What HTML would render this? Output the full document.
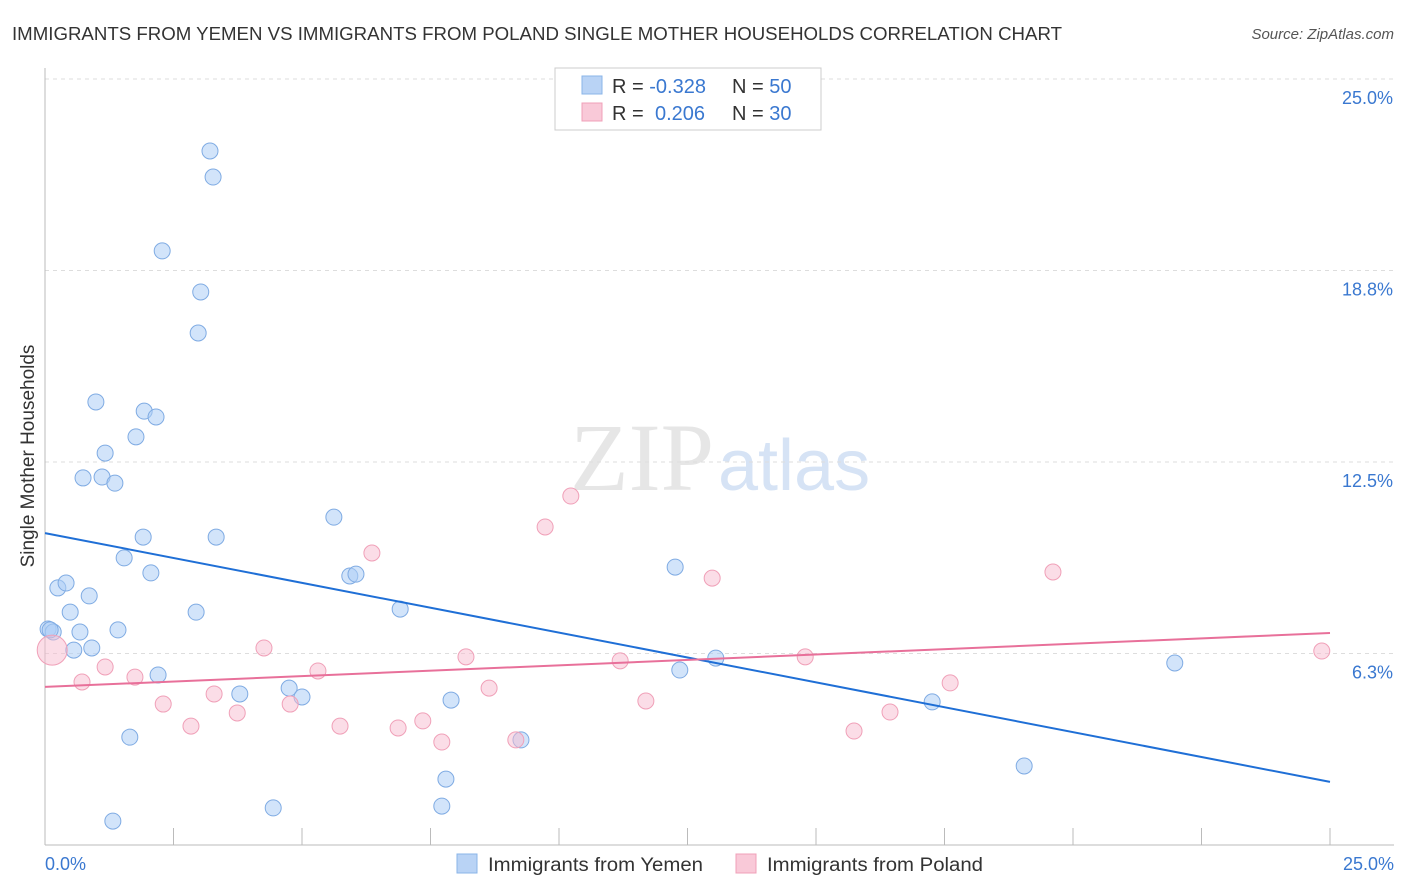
<!DOCTYPE html>
<html><head><meta charset="utf-8"><style>
body{margin:0;background:#fff;font-family:"Liberation Sans",sans-serif;}
svg{display:block}
</style></head><body>
<svg id="chart" width="1406" height="892">
<text x="12" y="40" font-size="18" fill="#333" textLength="1050" lengthAdjust="spacingAndGlyphs">IMMIGRANTS FROM YEMEN VS IMMIGRANTS FROM POLAND SINGLE MOTHER HOUSEHOLDS CORRELATION CHART</text>
<text x="1394" y="39" font-size="15" fill="#555" font-style="italic" text-anchor="end">Source: ZipAtlas.com</text>
<text x="714" y="490" font-size="96" fill="#e6e6e6" text-anchor="end" font-family="Liberation Serif">ZIP</text>
<text x="718" y="490" font-size="72" fill="#d6e3f5">atlas</text>
<g id="grid"></g><g id="axes"></g><g id="marks"></g>
<text transform="translate(34,456) rotate(-90)" font-size="19" fill="#333" text-anchor="middle">Single Mother Households</text>
<text x="45" y="870" font-size="18" fill="#3a78d0">0.0%</text>
<text x="1394" y="870" font-size="18" fill="#3a78d0" text-anchor="end">25.0%</text>
<g>
<rect x="555" y="68" width="266" height="62" fill="#fff" stroke="#ccc"/>
<rect x="582" y="76" width="20" height="18" fill="#b9d3f5" stroke="#8ab4e8"/>
<rect x="582" y="103" width="20" height="18" fill="#f9c9d8" stroke="#f0a0b8"/>
<text x="612" y="93" font-size="20" fill="#333">R = <tspan fill="#3a78d0">-0.328</tspan><tspan x="732">N = </tspan><tspan fill="#3a78d0">50</tspan></text>
<text x="612" y="120" font-size="20" fill="#333">R = <tspan fill="#3a78d0" x="655">0.206</tspan><tspan x="732">N = </tspan><tspan fill="#3a78d0">30</tspan></text>
</g>
<g>
<rect x="457" y="854" width="20" height="19" fill="#b9d3f5" stroke="#8ab4e8"/>
<text x="488" y="871" font-size="19" fill="#333" textLength="215" lengthAdjust="spacingAndGlyphs">Immigrants from Yemen</text>
<rect x="736" y="854" width="20" height="19" fill="#f9c9d8" stroke="#f0a0b8"/>
<text x="767" y="871" font-size="19" fill="#333" textLength="216" lengthAdjust="spacingAndGlyphs">Immigrants from Poland</text>
</g>
</svg>
<script>
const yTicks=[6.25,12.5,18.75,25];
const yTickLabels=["6.3%","12.5%","18.8%","25.0%"];
const yemenX=[3.21,3.27,2.28,3.03,2.98,0.99,1.93,2.16,1.77,1.17,0.74,1.11,1.36,5.62,1.91,3.33,1.54,2.06,5.93,6.05,12.26,0.25,0.41,0.86,0.49,2.94,6.91,0.06,0.16,0.68,1.42,0.56,0.91,2.20,12.35,13.05,21.98,3.79,4.75,5.00,7.90,17.26,1.65,9.26,7.80,19.05,4.44,7.72,1.32,0.10];
const yemenY=[22.65,21.80,19.39,18.05,16.71,14.46,14.16,13.97,13.32,12.79,11.98,12.01,11.81,10.70,10.05,10.05,9.37,8.88,8.78,8.84,9.07,8.39,8.55,8.13,7.60,7.60,7.70,7.05,6.95,6.95,7.02,6.36,6.43,5.55,5.71,6.10,5.94,4.93,5.12,4.83,4.73,4.67,3.52,3.43,2.15,2.58,1.21,1.27,0.78,7.02];
const polandX=[0.14,0.72,1.17,1.75,2.30,2.84,3.29,3.74,4.26,4.77,5.31,5.74,6.36,6.87,7.35,7.72,8.19,8.64,9.16,9.73,10.23,11.19,11.69,12.98,14.79,15.74,16.44,17.61,19.61,24.84];
const polandY=[6.36,5.32,5.81,5.48,4.60,3.88,4.93,4.31,6.43,4.60,5.68,3.88,9.53,3.82,4.05,3.36,6.14,5.12,3.43,10.38,11.39,6.01,4.70,8.71,6.14,3.72,4.34,5.29,8.91,6.33];
const yemenTrend=[10.18,2.06];
const polandTrend=[5.16,6.92];
const NS="http://www.w3.org/2000/svg";
const X0=45,X1=1330,Y0=845,Y1=79;
const sx=v=>X0+(X1-X0)*v/25, sy=v=>Y0-(Y0-Y1)*v/25;
function mk(tag,attrs,parent){const e=document.createElementNS(NS,tag);for(const k in attrs)e.setAttribute(k,attrs[k]);parent.appendChild(e);return e;}
const grid=document.getElementById('grid'),axes=document.getElementById('axes'),marks=document.getElementById('marks');
yTicks.forEach((t,i)=>{
 const l=mk('line',{x1:X0,x2:1394,y1:sy(t),y2:sy(t),stroke:'#ddd','stroke-dasharray':'4,4'},grid);
 
 
 const tx=mk('text',{x:1393,y:sy(t)+25,'font-size':18,fill:'#3a78d0','text-anchor':'end'},axes);
 tx.textContent=yTickLabels[i];
 
 
});
const ax=mk('line',{x1:X0,x2:X0,y1:68,y2:Y0,stroke:'#bbb'},axes);


const bx=mk('line',{x1:X0,x2:1394,y1:Y0,y2:Y0,stroke:'#bbb'},axes);


for(let i=0;i<=10;i++){const x=X0+i*(X1-X0)/10;
 const t=mk('line',{x1:x,x2:x,y1:828,y2:Y0,stroke:'#bbb'},axes);
 
 }
yemenX.forEach((v,i)=>{
 const c=mk('circle',{cx:sx(v),cy:sy(yemenY[i]),r:8,fill:'rgba(173,205,245,0.55)',stroke:'#7fabe3','stroke-width':1},marks);
 
 
});
polandX.forEach((v,i)=>{
 const c=mk('circle',{cx:sx(v),cy:sy(polandY[i]),r:i===0?15:8,fill:'rgba(248,187,208,0.5)',stroke:'#f0a0b8','stroke-width':1},marks);
 
 
});
const t1=mk('line',{x1:sx(0),x2:sx(25),y1:sy(yemenTrend[0]),y2:sy(yemenTrend[1]),stroke:'#1f6fd6','stroke-width':2},marks);


const t2=mk('line',{x1:sx(0),x2:sx(25),y1:sy(polandTrend[0]),y2:sy(polandTrend[1]),stroke:'#e8709a','stroke-width':2},marks);


</script>
</body></html>
